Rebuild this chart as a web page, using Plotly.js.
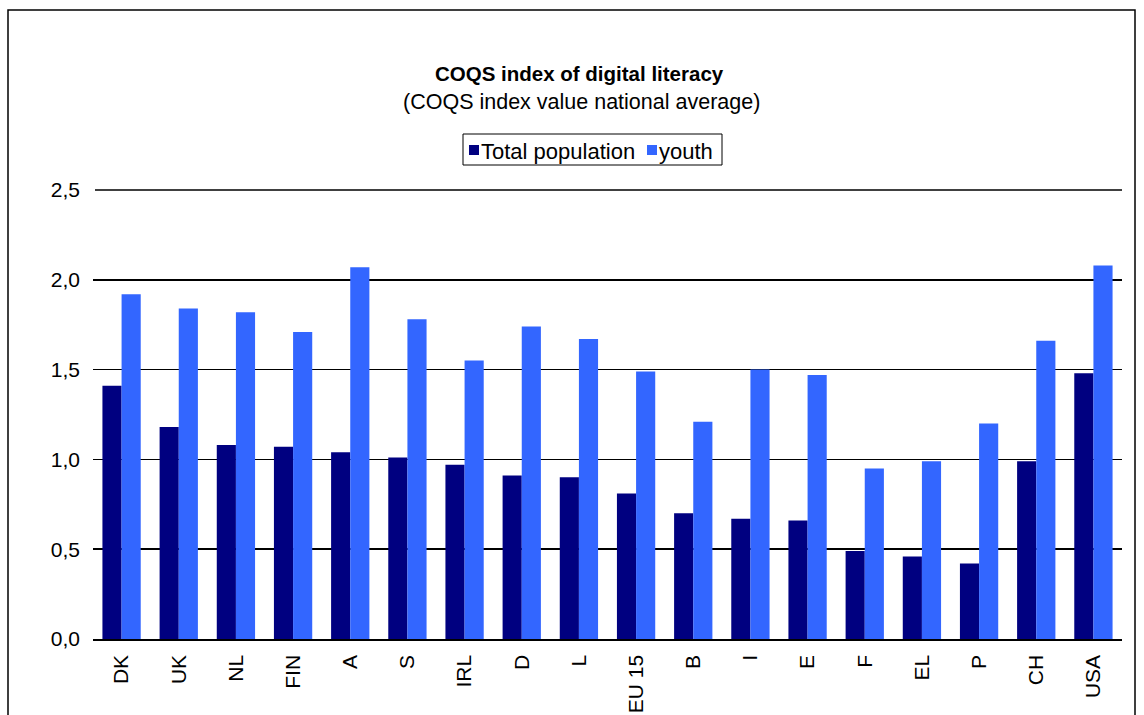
<!DOCTYPE html>
<html>
<head>
<meta charset="utf-8">
<script src="https://cdn.plot.ly/plotly-3.0.1.min.js"></script>
<style>
  html, body { margin: 0; padding: 0; background: #fff; }
  #chart { width: 1144px; height: 715px; }
</style>
</head>
<body>
<div id="chart"></div>
<script>
// Country codes along the x axis
const countries = ['DK', 'UK', 'NL', 'FIN', 'A', 'S', 'IRL', 'D', 'L', 'EU 15',
                   'B', 'I', 'E', 'F', 'EL', 'P', 'CH', 'USA'];

// COQS index, national average
const totalPopulation = [1.41, 1.18, 1.08, 1.07, 1.04, 1.01, 0.97, 0.91, 0.90, 0.81,
                         0.70, 0.67, 0.66, 0.49, 0.46, 0.42, 0.99, 1.48];
const youth = [1.92, 1.84, 1.82, 1.71, 2.07, 1.78, 1.55, 1.74, 1.67, 1.49,
               1.21, 1.50, 1.47, 0.95, 0.99, 1.20, 1.66, 2.08];

const seriesNames = ['Total population', 'youth'];
const seriesColors = ['#000080', '#3366FF'];
const yTicks = [0, 0.5, 1, 1.5, 2, 2.5];
const yMax = 2.5;

const W = 1144, H = 715;
const M = { l: 93, r: 22, t: 190, b: 76 };
const PW = W - M.l - M.r, PH = H - M.t - M.b;
// pixel -> paper helpers for the decorations around the plot
const px = x => (x - M.l) / PW;
const py = y => (H - M.b - y) / PH;

const FONT = 'Liberation Sans, Arial, sans-serif';

const traces = [
  { type: 'bar', x: countries, y: totalPopulation, name: seriesNames[0],
    marker: { color: seriesColors[0], line: { width: 0 } }, hoverinfo: 'x+y' },
  { type: 'bar', x: countries, y: youth, name: seriesNames[1],
    marker: { color: seriesColors[1], line: { width: 0 } }, hoverinfo: 'x+y' }
];

const shapes = [
  // frame around the whole chart
  { type: 'rect', xref: 'paper', yref: 'paper',
    x0: px(8), x1: px(1135), y0: py(730), y1: py(10),
    line: { color: '#000', width: 1.5 }, fillcolor: 'rgba(0,0,0,0)', layer: 'below' },
  // top gridline (2,5), on the upper edge of the plot area
  { type: 'line', xref: 'paper', yref: 'paper',
    x0: px(95), x1: 1, y0: 1, y1: 1,
    line: { color: '#000', width: 1.5 } },
  // legend box
  { type: 'rect', xref: 'paper', yref: 'paper',
    x0: px(463), x1: px(722), y0: py(165), y1: py(134),
    line: { color: '#000', width: 1 }, fillcolor: '#fff' },
  // legend swatches
  { type: 'rect', xref: 'paper', yref: 'paper',
    x0: px(469), x1: px(479), y0: py(155), y1: py(145),
    line: { width: 0 }, fillcolor: seriesColors[0] },
  { type: 'rect', xref: 'paper', yref: 'paper',
    x0: px(647), x1: px(657), y0: py(155), y1: py(145),
    line: { width: 0 }, fillcolor: seriesColors[1] }
];

const annotations = [
  { text: '<b>COQS index of digital literacy</b>', xref: 'paper', yref: 'paper',
    x: px(579), y: py(74), xanchor: 'center', yanchor: 'middle', showarrow: false,
    font: { family: FONT, size: 20.5, color: '#000' } },
  { text: '(COQS index value national average)', xref: 'paper', yref: 'paper',
    x: px(581), y: py(102), xanchor: 'center', yanchor: 'middle', showarrow: false,
    font: { family: FONT, size: 21.5, color: '#000' } },
  { text: seriesNames[0], xref: 'paper', yref: 'paper',
    x: px(479), y: py(151), xanchor: 'left', yanchor: 'middle', showarrow: false,
    font: { family: FONT, size: 22, color: '#000' } },
  { text: seriesNames[1], xref: 'paper', yref: 'paper',
    x: px(657), y: py(151), xanchor: 'left', yanchor: 'middle', showarrow: false,
    font: { family: FONT, size: 22, color: '#000' } }
];

const layout = {
  width: W, height: H,
  margin: M,
  paper_bgcolor: '#fff', plot_bgcolor: '#fff',
  separators: ',.',
  showlegend: false,
  barmode: 'group',
  bargap: 0.33,
  bargroupgap: 0,
  font: { family: FONT, size: 21, color: '#000' },
  xaxis: {
    type: 'category',
    range: [-0.5, countries.length - 0.5],
    tickangle: -90,
    showline: true, linecolor: '#000', linewidth: 1.5,
    showgrid: false, ticks: '', zeroline: false,
    ticklabelstandoff: 6,
    tickfont: { family: FONT, size: 21, color: '#000' }
  },
  yaxis: {
    range: [0, yMax],
    tickvals: yTicks,
    tickformat: '.1f',
    showgrid: true, gridcolor: '#000', gridwidth: 1.5,
    zeroline: false, showline: false, ticks: '',
    ticklabelstandoff: 12,
    tickfont: { family: FONT, size: 21, color: '#000' }
  },
  shapes: shapes,
  annotations: annotations
};

Plotly.newPlot('chart', traces, layout, { displayModeBar: false, staticPlot: true });
</script>
</body>
</html>
